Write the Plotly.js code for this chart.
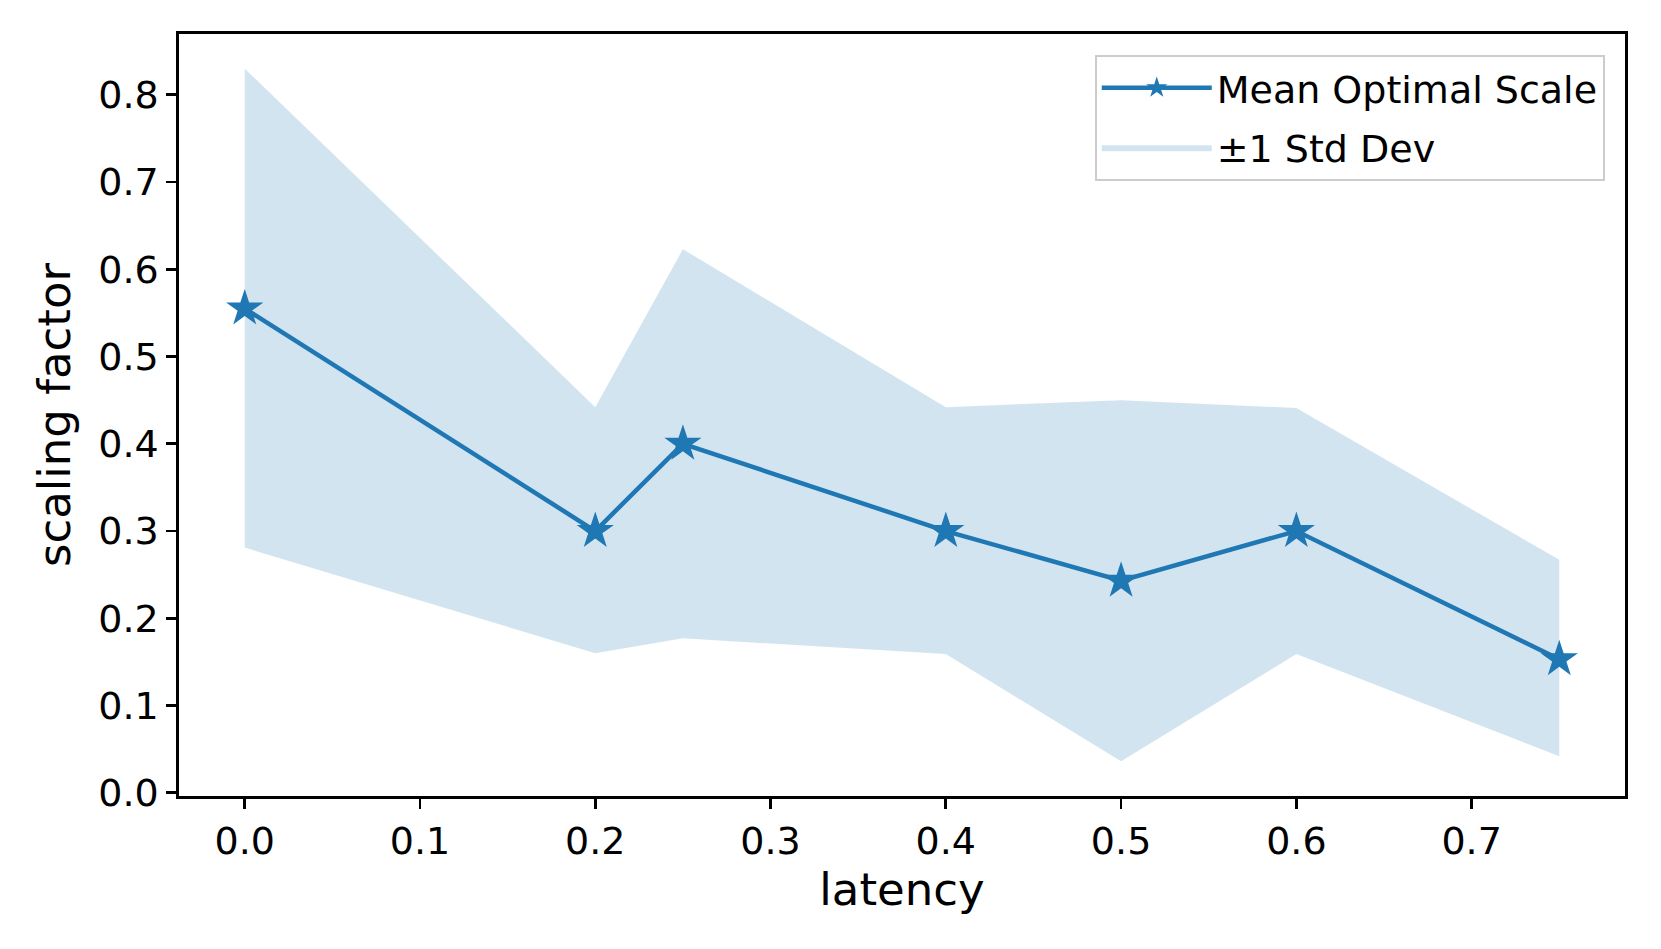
<!DOCTYPE html>
<html>
<head>
<meta charset="utf-8">
<script src="https://cdn.plot.ly/plotly-3.0.1.min.js"></script>
<style>html,body{margin:0;padding:0;background:#fff;}#chart{width:1661px;height:949px;}</style>
</head>
<body>
<div id="chart"></div>
<script>
const latency = [0.0, 0.2, 0.25, 0.4, 0.5, 0.6, 0.75];
const meanScale = [0.555, 0.300, 0.400, 0.300, 0.243, 0.300, 0.153];
const upperBand = [0.830, 0.442, 0.623, 0.442, 0.450, 0.441, 0.267];
const lowerBand = [0.281, 0.160, 0.177, 0.159, 0.036, 0.159, 0.042];
const xTicks = [0.0, 0.1, 0.2, 0.3, 0.4, 0.5, 0.6, 0.7];
const yTicks = [0.0, 0.1, 0.2, 0.3, 0.4, 0.5, 0.6, 0.7, 0.8];

const bandX = latency.concat(latency.slice().reverse());
const bandY = upperBand.concat(lowerBand.slice().reverse());

const font = 'DejaVu Sans, sans-serif';

const traces = [
  {
    x: bandX, y: bandY, type: 'scatter', mode: 'lines', fill: 'toself',
    fillcolor: 'rgba(31,119,180,0.2)', line: {width: 0, color: 'rgba(31,119,180,0)'},
    name: '±1 Std Dev', legendrank: 2, legendgroup: 'band', hoverinfo: 'skip'
  },
  {
    x: latency, y: meanScale, type: 'scatter', mode: 'lines+markers',
    line: {color: '#1f77b4', width: 4.5},
    marker: {symbol: 'star', size: 28, color: '#1f77b4', line: {width: 0}},
    name: 'Mean Optimal Scale', legendrank: 1, legendgroup: 'mean'
  }
];

const axisCommon = {
  showgrid: false, zeroline: false, showline: true, mirror: true,
  linecolor: '#000', linewidth: 2.7, ticks: 'outside', ticklen: 10, tickwidth: 2.7,
  tickcolor: '#000', tickfont: {family: font, size: 38, color: '#000'}
};

const layout = {
  width: 1661, height: 949,
  margin: {l: 179, r: 36, t: 34, b: 153},
  paper_bgcolor: '#fff', plot_bgcolor: '#fff',
  font: {family: font, color: '#000'},
  showlegend: true,
  xaxis: Object.assign({}, axisCommon, {
    range: [-0.0375, 0.7875], tickvals: xTicks,
    ticktext: xTicks.map(v => v.toFixed(1)),
    title: {text: 'latency', font: {family: font, size: 45, color: '#000'}, standoff: 12}
  }),
  yaxis: Object.assign({}, axisCommon, {
    range: [-0.0037, 0.8697], tickvals: yTicks,
    ticktext: yTicks.map(v => v.toFixed(1)),
    title: {text: 'scaling factor', font: {family: font, size: 45, color: '#000'}, standoff: 14}
  }),
  legend: {
    x: 0.986, y: 0.973, xanchor: 'right', yanchor: 'top',
    bgcolor: 'rgba(255,255,255,0.8)', bordercolor: '#cccccc', borderwidth: 2,
    font: {family: font, size: 38, color: '#000'},
    itemwidth: 110, tracegroupgap: 7
  }
};

Plotly.newPlot('chart', traces, layout, {displayModeBar: false, staticPlot: true});
</script>
</body>
</html>
